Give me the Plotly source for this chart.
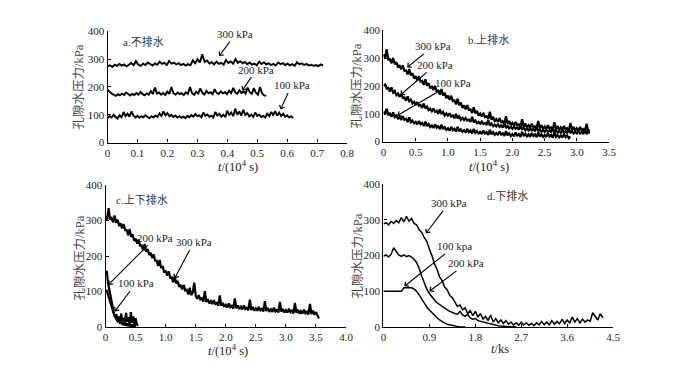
import numpy as np
import plotly.graph_objects as go

# ---------------- data ----------------
# Panel a: undrained, t in 1e4 s
a300 = [275,278,272,280,276,283,277,281,274,279,286,278,293,280,276,284,279,288,281,277,285,280,291,283,287,279,293,284,288,281,286,279,283,277,282,278,296,285,300,288,318,290,295,284,289,281,291,283,287,280,297,286,292,284,300,287,293,285,290,282,288,280,284,278,291,283,289,281,285,279,283,277,288,282,286,279,284,278,282,276,289,281,285,279,283,277,280,276,279,275,281,277]
a200 = [190,182,176,172,168,174,170,176,171,180,173,169,175,171,178,172,182,174,170,177,172,185,175,198,176,180,172,178,171,183,175,200,177,173,180,174,178,171,181,175,200,178,172,183,176,195,179,173,186,177,181,174,192,178,175,184,177,181,174,187,178,197,180,176,188,178,184,176,198,181,175,196,179,172,200,177,170,168]
a100 = [88,95,90,100,92,86,98,91,110,95,104,93,112,97,90,96,89,94,91,99,92,88,95,90,97,92,105,96,112,98,106,94,100,92,97,90,95,89,93,88,96,91,99,93,103,95,98,91,108,96,101,93,97,90,110,97,104,93,100,91,115,98,108,95,122,100,112,97,118,99,106,94,101,92,108,96,100,92,96,90,104,95,110,99,113,97,108,95,104,93,98,90,95,88]
a_end = {"300": 0.72, "200": 0.53, "100": 0.62}

# Panel b: top drainage, t in 1e4 s
b300 = [315,300,332,295,296,282,301,278,286,267,275,260,274,255,256,242,261,238,246,227,
        235,220,235,216,218,204,224,201,210,191,200,185,200,181,183,169,189,166,175,156,
        165,150,165,146,148,134,154,131,140,121,130,116,131,114,116,103,123,101,111,93,
        101,90,103,88,91,81,107,79,89,74,81,71,84,70,73,64,91,63,74,59,
        67,57,71,58,62,53,80,53,65,51,59,50,64,51,55,47,74,48,59,46,
        54,45,59,46,51,43,70,44,56,42,51,42,56,43,48,40,67,41,53,39,
        48,39,53,40,45,37,64,38,42]
b200 = [200,205,191,193,180,195,176,182,167,173,161,170,157,159,147,163,145,151,137,143,
        132,142,129,132,121,137,119,126,113,119,109,119,107,111,100,116,99,106,94,101,
        91,102,90,94,83,100,83,91,78,86,77,85,75,79,71,89,69,76,66,71,
        64,72,63,67,59,77,58,65,55,61,54,62,53,58,50,68,49,56,47,53,
        46,54,46,50,43,61,42,50,40,47,40,48,40,44,37,55,37,44,35,41,
        35,44,35,40,33,51,33,41,32,38,32,41,32,37,30,48,30,38,29,35,
        29,38,29,34,27,46,27,35,30]
b100 = [108,98,118,97,101,89,105,88,94,83,88,78,91,78,82,70,87,70,76,66,
        71,62,74,62,67,56,72,56,63,52,58,49,62,50,55,44,61,45,52,42,
        48,39,53,41,46,36,53,37,44,35,41,32,46,34,40,29,46,31,38,29,
        35,27,40,29,34,24,42,26,34,24,31,23,36,25,30,20,38,22,30,20,
        27,19,33,22,27,17,35,20,28,19,26,17,31,20,26,16,34,18,26,17,
        24,16,30,18,24,14,32,17,24,15,22,14,28,16,22,12,18]
b_end = {"300": 3.2, "200": 3.2, "100": 2.9}

# Panel c: top and bottom drainage, t in 1e4 s
c300 = [312,303,335,303,307,295,314,294,302,285,292,278,290,273,273,259,276,254,261,243,
        249,235,247,229,230,216,234,212,220,203,209,194,205,187,187,172,189,166,172,154,
        159,145,157,139,140,126,144,123,130,113,119,106,119,103,105,92,111,90,98,125,
        88,80,90,78,81,72,101,71,79,67,73,65,76,65,68,60,89,60,68,57,
        63,55,67,56,60,52,81,53,61,51,57,50,61,51,54,47,77,48,57,46,
        53,46,57,47,51,44,73,45,54,43,50,43,55,44,48,41,71,43,51,41,
        48,41,52,42,46,38,68,40,49,38,45,38,49,39,43,35,65,37,46,35,
        42,30,24]
c200 = [150,158,125,108,85,66,50,38,28,36,20,30,14,38,18,26,10,40,15,28,8,42,12,30,6,25,8,4]
c100 = [100,104,92,80,66,54,44,36,28,22,16,20,10,18,6,14,4,12,3,10,2,8,2,6,1,2]
c_end = {"300": 3.55, "200": 0.54, "100": 0.50}

# Panel d: bottom drainage, t in ks
d300 = [288,292,286,296,290,298,292,306,294,310,296,304,290,286,272,265,250,240,218,200,176,162,140,130,112,104,88,82,70,58,62,48,54,38,46,32,44,28,38,22,30,18,34,14,24,12,20,10,18,8,14,6,12,5,14,6,12,5,10,4,12,6,16,7,14,6,18,8,16,9,22,10,20,12,28,14,24,12,22,14,20,16,40,30,20,38,26]
d200 = [198,202,196,204,222,210,202,198,202,197,200,196,190,180,164,142,122,106,94,84,76,68,63,56,52,48,44,40,38,36,44,34,30,36,26,22,24,18,16,14,12,10,8,6,5,4,3,2,2,1,1,1,1]
d100 = [100,100,100,101,100,100,101,100,110,110,111,110,106,100,90,78,66,56,48,40,32,26,20,15,11,8,6,4,3,2,1,1,0]
d_end = {"300": 4.3, "200": 2.6, "100": 1.6}

# tick labels
y_ticks = [0, 100, 200, 300, 400]
a_xticks = [0, 0.1, 0.2, 0.3, 0.4, 0.5, 0.6, 0.7, 0.8]
a_xtext = ["0", "0.1", "0.2", "0.3", "0.4", "0.5", "0.6", "0.7", "0.8"]
b_xticks = [0, 0.5, 1.0, 1.5, 2.0, 2.5, 3.0, 3.5]
b_xtext = ["0", "0.5", "1.0", "1.5", "2.0", "2.5", "3.0", "3.5"]
c_xticks = [0, 0.5, 1.0, 1.5, 2.0, 2.5, 3.0, 3.5, 4.0]
c_xtext = ["0", "0.5", "1.0", "1.5", "2.0", "2.5", "3.0", "3.5", "4.0"]
d_xticks = [0, 0.9, 1.8, 2.7, 3.6, 4.5]
d_xtext = ["0", "0.9", "1.8", "2.7", "3.6", "4.5"]

# ---------------- figure ----------------
SERIF = '"Liberation Serif", "Times New Roman", "Noto Sans CJK SC", serif'
fig = go.Figure()

def add(vals, end, xa, ya, w=1.7):
    t = np.linspace(0, end, len(vals))  # sampling times
    fig.add_trace(go.Scatter(x=t, y=vals, mode="lines", xaxis=xa, yaxis=ya,
                             line=dict(color="black", width=w), showlegend=False,
                             hoverinfo="skip"))

for v, k in [(a300, "300"), (a200, "200"), (a100, "100")]:
    add(v, a_end[k], "x", "y", 1.9)
for v, k in [(b300, "300"), (b200, "200"), (b100, "100")]:
    add(v, b_end[k], "x2", "y2", 2.2)
for v, k in [(c300, "300"), (c200, "200"), (c100, "100")]:
    add(v, c_end[k], "x3", "y3", 2.2)
for v, k in [(d300, "300"), (d200, "200"), (d100, "100")]:
    add(v, d_end[k], "x4", "y4", 1.5)

# page is 700x373; the html body adds an 8 px margin around the figure
OFF = 8
W, H = 700 - 2 * OFF, 373 - 2 * OFF
def dom_x(p0, p1):
    return [(p0 - OFF) / W, (p1 - OFF) / W]
def dom_y(top, bottom):
    return [1 - (bottom - OFF) / H, 1 - (top - OFF) / H]

axis_common = dict(showline=True, linecolor="black", linewidth=1.3, ticks="inside",
                   ticklen=3, tickwidth=1.2, tickcolor="black", showgrid=False,
                   zeroline=False, tickfont=dict(family=SERIF, size=11, color="#222"))

def xaxis(dom, rng, tv, tt, anchor):
    return dict(domain=dom, range=rng, tickvals=tv, ticktext=tt, anchor=anchor, **axis_common)
def yaxis(dom, anchor):
    return dict(domain=dom, range=[0, 400], tickvals=y_ticks, anchor=anchor, **axis_common)

fig.update_layout(
    width=W, height=H, margin=dict(l=0, r=0, t=0, b=0),
    paper_bgcolor="white", plot_bgcolor="white", showlegend=False,
    font=dict(family=SERIF),
    xaxis=xaxis(dom_x(106, 349), [0, 0.8], a_xticks, a_xtext, "y"),
    yaxis=yaxis(dom_y(26, 141), "x"),
    xaxis2=xaxis(dom_x(386, 615), [0, 3.5], b_xticks, b_xtext, "y2"),
    yaxis2=yaxis(dom_y(25, 140), "x2"),
    xaxis3=xaxis(dom_x(104, 348), [0, 4.0], c_xticks, c_xtext, "y3"),
    yaxis3=yaxis(dom_y(185, 332), "x3"),
    xaxis4=xaxis(dom_x(386, 619), [0, 4.5], d_xticks, d_xtext, "y4"),
    yaxis4=yaxis(dom_y(184, 332), "x4"),
)

ann = []
def ptext(text, px, py, size=10.5, angle=0, xanchor="center", color="#222"):
    ann.append(dict(text=text, x=(px - OFF) / W, y=1 - (py - OFF) / H, xref="paper", yref="paper",
                    showarrow=False, textangle=angle, xanchor=xanchor, yanchor="middle",
                    font=dict(family=SERIF, size=size, color=color)))

def arrow(text, xr, yr, x, y, ax, ay):
    ann.append(dict(text=text, x=x, y=y, xref=xr, yref=yr, ax=ax, ay=ay,
                    showarrow=True, arrowhead=4, arrowsize=1, arrowwidth=1.1,
                    arrowcolor="black", standoff=0, startstandoff=0,
                    font=dict(family=SERIF, size=11, color="#222")))

# panel labels
ptext("a.不排水", 120, 36, size=11, xanchor="left", color="#333")
ptext("b.上排水", 470, 34, size=11, xanchor="left", color="#333")
ptext("c.上下排水", 113, 200, size=11, xanchor="left", color="#333")
ptext("d.下排水", 489, 196, size=11, xanchor="left", color="#333")

# y titles
for px, py in [(78, 83), (359, 82), (78, 260), (360, 258)]:
    ptext("孔隙水压力/kPa", px, py, size=12.5, angle=-90, color="#444")
# x titles
ptext("<i>t</i>/(10<sup>4</sup> s)", 238, 165, size=12.5)
ptext("<i>t</i>/(10<sup>4</sup> s)", 493, 165, size=12.5)
ptext("<i>t</i>/(10<sup>4</sup> s)", 228, 356, size=12.5)
ptext("<i>t</i>/ks", 504, 355, size=12.5)

# arrows with labels
arrow("300 kPa", "x", "y", 0.373, 311, 16, -22)
arrow("200 kPa", "x", "y", 0.45, 187, 14, -21)
arrow("100 kPa", "x", "y", 0.578, 119, 11, -24)

arrow("300 kPa", "x2", "y2", 0.367, 267, 26, -21)
arrow("200 kPa", "x2", "y2", 0.264, 168, 35, -30)
arrow("100 kPa", "x2", "y2", 0.214, 93, 56, -33)

arrow("200 kPa", "x3", "y3", 0.044, 119, 47, -47)
arrow("300 kPa", "x3", "y3", 1.148, 137, 19, -36)
arrow("100 kPa", "x3", "y3", 0.152, 44, 21, -28)

arrow("300 kPa", "x4", "y4", 0.83, 262, 23, -30)
arrow("100 kpa", "x4", "y4", 0.41, 114, 50, -40)
arrow("200 kPa", "x4", "y4", 0.90, 100, 37, -28)

fig.update_layout(annotations=ann)
fig.write_html("out.html")
